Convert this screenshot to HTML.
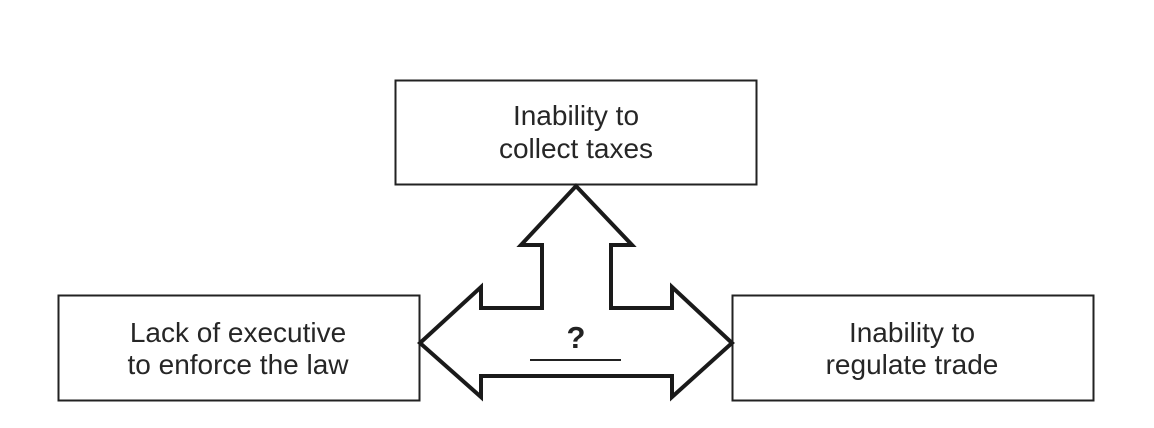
<!DOCTYPE html>
<html><head><meta charset="utf-8"><style>
html,body{margin:0;padding:0;background:#fff;}
</style></head><body>
<svg width="1154" height="428" viewBox="0 0 1154 428" xmlns="http://www.w3.org/2000/svg" style="display:block">
<rect x="0" y="0" width="1154" height="428" fill="#fff"/>
<g fill="none" stroke="#222" stroke-width="2">
<rect x="395.5" y="80.5" width="361" height="104"/>
<rect x="58.5" y="295.5" width="361" height="105"/>
<rect x="732.5" y="295.5" width="361" height="105"/>
</g>
<polygon points="576,186 632,245 611,245 611,308 672,308 672,287 732,343 672,397 672,376 481,376 481,397 420,343 481,287 481,308 542,308 542,245 521,245" fill="#fff" stroke="#1a1a1a" stroke-width="4" stroke-linejoin="miter"/>
<line x1="530" y1="360" x2="621" y2="360" stroke="#222" stroke-width="2"/>
<g font-family="Liberation Sans, Arial, sans-serif" font-size="28" fill="#262626" text-anchor="middle">
<text x="576" y="348" font-size="31" font-weight="bold" fill="#222">?</text>
<text x="576" y="125">Inability to</text>
<text x="576" y="158">collect taxes</text>
<text x="238" y="342">Lack of executive</text>
<text x="238" y="374">to enforce the law</text>
<text x="912" y="342">Inability to</text>
<text x="912" y="374">regulate trade</text>
</g>
</svg>
</body></html>
